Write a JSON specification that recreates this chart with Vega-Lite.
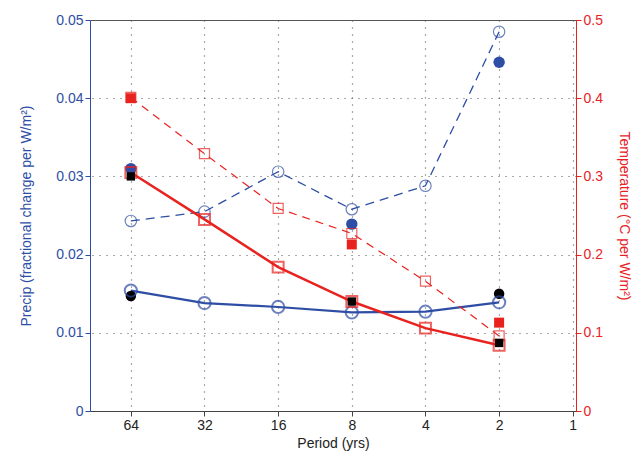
{
"$schema":"https://vega.github.io/schema/vega-lite/v6.json",
"width":486,"height":391,
"autosize":{"type":"none"},
"padding":{"left":90,"top":20,"right":60,"bottom":51},
"config":{"view":{"stroke":"#555"},"font":"Liberation Sans","axis":{"labelFontSize":14,"titleFontSize":14,"labelColor":"#222","titleColor":"#222","titleFontWeight":"normal","tickColor":"#444","domainColor":"#444"}},
"datasets":{
"p":[
{"period":64,"s":"dash","v":0.0243},{"period":32,"s":"dash","v":0.0255},{"period":16,"s":"dash","v":0.0306},{"period":8,"s":"dash","v":0.0258},{"period":4,"s":"dash","v":0.0288},{"period":2,"s":"dash","v":0.0485},
{"period":64,"s":"solid","v":0.0154},{"period":32,"s":"solid","v":0.0138},{"period":16,"s":"solid","v":0.0133},{"period":8,"s":"solid","v":0.0126},{"period":4,"s":"solid","v":0.0127},{"period":2,"s":"solid","v":0.0139},
{"period":64,"s":"fill","v":0.031},{"period":8,"s":"fill","v":0.0239},{"period":2,"s":"fill","v":0.0446},
{"period":64,"s":"black","v":0.0147},{"period":2,"s":"black","v":0.0150}
],
"t":[
{"period":64,"s":"dash","v":0.401},{"period":32,"s":"dash","v":0.329},{"period":16,"s":"dash","v":0.259},{"period":8,"s":"dash","v":0.227},{"period":4,"s":"dash","v":0.166},{"period":2,"s":"dash","v":0.096},
{"period":64,"s":"solid","v":0.305},{"period":32,"s":"solid","v":0.245},{"period":16,"s":"solid","v":0.184},{"period":8,"s":"solid","v":0.14},{"period":4,"s":"solid","v":0.106},{"period":2,"s":"solid","v":0.084},
{"period":64,"s":"fill","v":0.40},{"period":8,"s":"fill","v":0.213},{"period":2,"s":"fill","v":0.113},
{"period":64,"s":"black","v":0.30},{"period":8,"s":"black","v":0.14},{"period":2,"s":"black","v":0.087}
]},
"encoding":{"x":{"field":"period","type":"quantitative","scale":{"type":"log","domain":[0.97,94],"reverse":true,"nice":false},
"axis":{"title":"Period (yrs)","values":[64,32,16,8,4,2,1],"format":"d","grid":true,"gridDash":[1,6],"gridColor":"#555","gridWidth":1.2,"tickSize":5,"tickDirection":"inner"}}},
"layer":[
{"data":{"name":"p"},
"encoding":{"y":{"field":"v","type":"quantitative","scale":{"domain":[0,0.05],"nice":false},"axis":{"title":"Precip (fractional change per W/m²)","titlePadding":22,"titleColor":"#2e4ea5","labelColor":"#2e4ea5","domainColor":"#2e4ea5","tickColor":"#2e4ea5","values":[0,0.01,0.02,0.03,0.04,0.05],"format":"g","grid":true,"gridDash":[1,6],"gridColor":"#555","gridWidth":1.2,"tickSize":5,"tickDirection":"inner"}}},
"layer":[
{"transform":[{"filter":"datum.s=='dash'"}],"mark":{"type":"line","color":"#2e4ea5","strokeWidth":1.3,"strokeDash":[9,6]}},
{"transform":[{"filter":"datum.s=='dash'"}],"mark":{"type":"point","shape":"circle","color":"#2e4ea5","filled":false,"size":130,"strokeWidth":1.2}},
{"transform":[{"filter":"datum.s=='solid'"}],"mark":{"type":"line","color":"#2e4ea5","strokeWidth":2.2}},
{"transform":[{"filter":"datum.s=='black'"}],"mark":{"type":"point","shape":"circle","color":"black","filled":true,"opacity":1,"size":110}},
{"transform":[{"filter":"datum.s=='solid'"}],"mark":{"type":"point","shape":"circle","color":"#2e4ea5","filled":false,"size":150,"strokeWidth":2}},
{"transform":[{"filter":"datum.s=='fill'"}],"mark":{"type":"point","shape":"circle","color":"#2e4ea5","filled":true,"opacity":1,"size":130}}
]},
{"data":{"name":"t"},
"encoding":{"y":{"field":"v","type":"quantitative","scale":{"domain":[0,0.5],"nice":false},"axis":{"orient":"right","title":"Temperature (°C per W/m²)","titlePadding":14,"titleColor":"#e8231f","labelColor":"#e8231f","domainColor":"#e8231f","tickColor":"#e8231f","values":[0,0.1,0.2,0.3,0.4,0.5],"format":"g","grid":false,"tickSize":5,"tickDirection":"inner"}}},
"layer":[
{"transform":[{"filter":"datum.s=='dash'"}],"mark":{"type":"line","color":"#e8231f","strokeWidth":1.2,"strokeDash":[8,6]}},
{"transform":[{"filter":"datum.s=='fill'"}],"mark":{"type":"point","shape":"square","color":"#e8231f","filled":true,"opacity":1,"size":100}},
{"transform":[{"filter":"datum.s=='dash'"}],"mark":{"type":"point","shape":"square","color":"#e8231f","filled":false,"size":100,"strokeWidth":1.2}},
{"transform":[{"filter":"datum.s=='solid'"}],"mark":{"type":"line","color":"#e8231f","strokeWidth":2.5}},
{"transform":[{"filter":"datum.s=='solid'"}],"mark":{"type":"point","shape":"square","color":"#e8231f","filled":false,"size":120,"strokeWidth":2}},
{"transform":[{"filter":"datum.s=='black'"}],"mark":{"type":"point","shape":"square","color":"black","filled":true,"opacity":1,"size":70}}
]}
],
"resolve":{"scale":{"y":"independent"}}
}
